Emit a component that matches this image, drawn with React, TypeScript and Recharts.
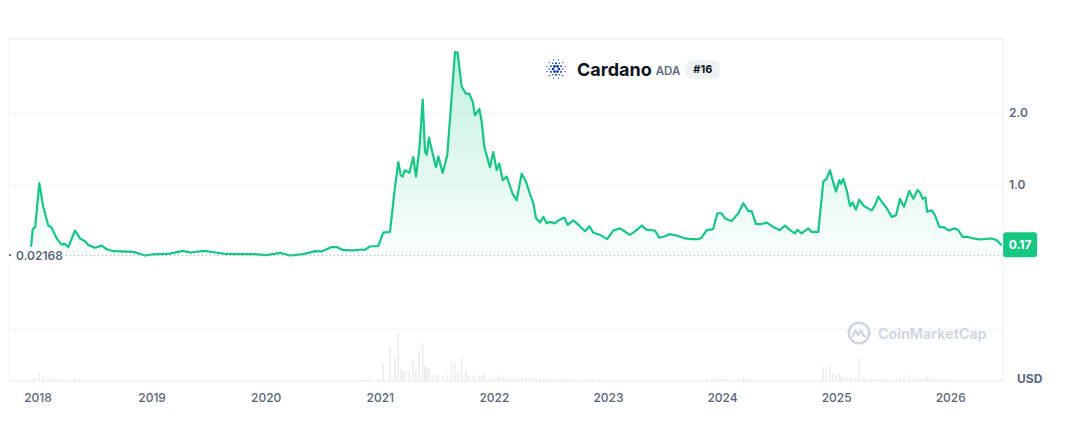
import {
  ComposedChart,
  Area,
  Bar,
  XAxis,
  YAxis,
  CartesianGrid,
  ReferenceLine,
  ReferenceArea,
  ReferenceDot,
} from 'recharts';

// decimal-year timestamps of the sampled points
const dates = [
  2017.939, 2017.954, 2017.976, 2018.011, 2018.046, 2018.09, 2018.12, 2018.164, 2018.208, 2018.228,
  2018.266, 2018.324, 2018.368, 2018.412, 2018.441, 2018.5, 2018.558, 2018.602, 2018.66, 2018.719,
  2018.835, 2018.938, 2019.011, 2019.157, 2019.268, 2019.332, 2019.464, 2019.507, 2019.624, 2019.741,
  2019.887, 2020.004, 2020.121, 2020.209, 2020.325, 2020.428, 2020.486, 2020.574, 2020.618, 2020.676,
  2020.763, 2020.837, 2020.866, 2020.91, 2020.982, 2021.026, 2021.085, 2021.129, 2021.158, 2021.179,
  2021.196, 2021.216, 2021.254, 2021.289, 2021.313, 2021.342, 2021.372, 2021.392, 2021.407, 2021.427,
  2021.459, 2021.488, 2021.509, 2021.547, 2021.587, 2021.626, 2021.655, 2021.678, 2021.713, 2021.751,
  2021.78, 2021.81, 2021.83, 2021.868, 2021.889, 2021.912, 2021.961, 2021.99, 2022.02, 2022.043,
  2022.073, 2022.108, 2022.16, 2022.195, 2022.239, 2022.277, 2022.312, 2022.341, 2022.365, 2022.4,
  2022.429, 2022.458, 2022.487, 2022.531, 2022.56, 2022.613, 2022.642, 2022.692, 2022.75, 2022.794,
  2022.832, 2022.867, 2022.925, 2022.989, 2023.042, 2023.101, 2023.13, 2023.188, 2023.247, 2023.291,
  2023.335, 2023.407, 2023.445, 2023.495, 2023.539, 2023.598, 2023.67, 2023.729, 2023.787, 2023.817,
  2023.861, 2023.918, 2023.954, 2023.992, 2024.021, 2024.08, 2024.138, 2024.182, 2024.226, 2024.255,
  2024.293, 2024.343, 2024.387, 2024.444, 2024.503, 2024.547, 2024.591, 2024.635, 2024.655, 2024.693,
  2024.751, 2024.781, 2024.839, 2024.883, 2024.912, 2024.941, 2024.965, 2024.994, 2025.023, 2025.038,
  2025.058, 2025.088, 2025.117, 2025.14, 2025.169, 2025.198, 2025.239, 2025.307, 2025.336, 2025.365,
  2025.395, 2025.439, 2025.482, 2025.52, 2025.555, 2025.59, 2025.637, 2025.672, 2025.707, 2025.73,
  2025.754, 2025.777, 2025.794, 2025.833, 2025.862, 2025.9, 2025.949, 2025.978, 2026.037, 2026.066,
  2026.104, 2026.139, 2026.197, 2026.256, 2026.36, 2026.404, 2026.446,
];

// ADA price in USD
const prices = [
  0.14, 0.39, 0.42, 1.03, 0.7, 0.44, 0.41, 0.26, 0.17, 0.19,
  0.14, 0.37, 0.26, 0.22, 0.17, 0.13, 0.16, 0.11, 0.083, 0.08,
  0.074, 0.023, 0.04, 0.05, 0.088, 0.065, 0.088, 0.075, 0.05, 0.043,
  0.043, 0.028, 0.06, 0.023, 0.043, 0.083, 0.08, 0.14, 0.14, 0.097,
  0.095, 0.106, 0.1, 0.15, 0.155, 0.34, 0.35, 0.98, 1.32, 1.14,
  1.12, 1.21, 1.17, 1.39, 1.12, 1.49, 2.19, 1.46, 1.42, 1.66,
  1.44, 1.25, 1.4, 1.17, 1.42, 2.23, 2.85, 2.84, 2.37, 2.27,
  2.27, 2.16, 1.97, 2.06, 1.88, 1.53, 1.25, 1.46, 1.21, 1.3,
  1.07, 1.12, 0.88, 0.79, 1.16, 1.05, 0.88, 0.75, 0.54, 0.48,
  0.56, 0.47, 0.49, 0.47, 0.51, 0.55, 0.45, 0.51, 0.43, 0.36,
  0.43, 0.34, 0.31, 0.25, 0.37, 0.4, 0.37, 0.31, 0.375, 0.44,
  0.38, 0.37, 0.27, 0.29, 0.32, 0.3, 0.26, 0.25, 0.25, 0.27,
  0.375, 0.39, 0.61, 0.61, 0.54, 0.5, 0.61, 0.75, 0.64, 0.64,
  0.46, 0.46, 0.48, 0.42, 0.375, 0.44, 0.375, 0.33, 0.38, 0.33,
  0.4, 0.35, 0.35, 1.05, 1.09, 1.21, 1.07, 0.91, 1.07, 1.02,
  1.09, 0.93, 0.71, 0.76, 0.66, 0.8, 0.71, 0.65, 0.72, 0.84,
  0.77, 0.68, 0.56, 0.58, 0.81, 0.7, 0.92, 0.81, 0.93, 0.9,
  0.81, 0.83, 0.63, 0.65, 0.58, 0.42, 0.41, 0.37, 0.4, 0.375,
  0.28, 0.285, 0.26, 0.245, 0.26, 0.236, 0.165,
];

// 24h volume, billions USD
const volumes = [
  0.3, 0.6, 0.8, 2.0, 1.2, 0.8, 0.6, 0.4, 0.3, 0.3,
  0.3, 0.6, 0.4, 0.3, 0.2, 0.2, 0.2, 0.2, 0.15, 0.15,
  0.1, 0.1, 0.1, 0.1, 0.2, 0.15, 0.2, 0.15, 0.1, 0.1,
  0.1, 0.1, 0.2, 0.2, 0.15, 0.2, 0.2, 0.4, 0.3, 0.3,
  0.2, 0.4, 0.4, 0.6, 0.6, 4.5, 8.5, 6.0, 12.0, 3.0,
  2.8, 2.5, 2.6, 5.2, 3.0, 7.0, 9.5, 4.0, 3.5, 3.0,
  1.6, 1.5, 1.4, 1.3, 1.5, 4.7, 4.5, 2.5, 6.0, 2.7,
  1.3, 1.2, 1.4, 1.2, 1.3, 2.0, 1.2, 1.0, 1.0, 1.7,
  0.9, 0.8, 0.8, 0.7, 1.0, 0.8, 0.7, 0.8, 0.9, 0.7,
  0.6, 0.5, 0.5, 0.4, 0.5, 0.5, 0.4, 0.5, 0.4, 0.4,
  0.5, 0.6, 0.3, 0.3, 0.5, 0.4, 0.3, 0.3, 0.3, 0.4,
  0.3, 0.2, 0.5, 0.3, 0.3, 0.2, 0.2, 0.2, 0.2, 0.3,
  0.6, 0.5, 0.9, 0.7, 0.5, 0.4, 0.5, 0.8, 0.5, 0.4,
  0.5, 0.3, 0.3, 0.3, 0.3, 0.3, 0.3, 0.3, 0.3, 0.2,
  0.3, 0.3, 0.4, 3.5, 2.5, 3.8, 2.0, 1.5, 1.6, 1.2,
  1.0, 1.0, 1.3, 0.8, 1.0, 5.8, 1.0, 0.5, 0.5, 0.6,
  0.5, 0.4, 0.4, 0.4, 1.0, 0.7, 1.5, 0.8, 1.0, 0.7,
  0.6, 0.6, 1.2, 0.6, 0.5, 0.6, 0.4, 0.4, 0.4, 0.3,
  0.4, 0.3, 0.2, 0.2, 0.2, 0.2, 0.3,
];

const yearTicks = [2018, 2019, 2020, 2021, 2022, 2023, 2024, 2025, 2026];
const priceTicks = [-1, 1, 2];
const lowestPrice = 0.02168;
const currentPriceLabel = '0.17';

const X_DOMAIN: [number, number] = [2017.737, 2026.458];
const Y_DOMAIN: [number, number] = [-1.72, 3.03];
const VOL_DOMAIN: [number, number] = [0, 85];

const GREEN = '#16c784';
const GRAY = '#58667e';
const FONT = 'Inter, "Noto Sans", sans-serif';

const chartData = dates.map((date, i) => ({
  date,
  price: prices[i],
  volume: volumes[i],
}));

function LowestLabel(props: any) {
  const { x, y } = props.viewBox;
  return (
    <g>
      <rect x={x} y={y - 9} width={55} height={18} fill="#fff" />
      <circle cx={x + 2} cy={y - 0.5} r={1.2} fill={GRAY} />
      <text x={x + 8} y={y} dy="0.4em" fontSize={12} fontWeight={600} fill={GRAY} fontFamily={FONT}>
        {String(lowestPrice)}
      </text>
    </g>
  );
}

function PriceBadge(props: any) {
  const { cx, cy } = props;
  return (
    <g>
      <rect x={cx + 1.5} y={cy - 13} width={34} height={25} rx={3} fill={GREEN} />
      <text
        x={cx + 18.5}
        y={cy}
        dy="0.35em"
        textAnchor="middle"
        fontSize={12}
        fontWeight={700}
        fill="#fff"
        fontFamily={FONT}
      >
        {currentPriceLabel}
      </text>
    </g>
  );
}

function CardanoLogo() {
  const dots: { x: number; y: number; r: number }[] = [];
  for (let i = 0; i < 6; i++) {
    const a = (Math.PI / 3) * i;
    dots.push({ x: 11 + 3 * Math.cos(a), y: 11 + 3 * Math.sin(a), r: 1.3 });
    const b = a + Math.PI / 6;
    dots.push({ x: 11 + 5.8 * Math.cos(b), y: 11 + 5.8 * Math.sin(b), r: 0.95 });
    dots.push({ x: 11 + 6.6 * Math.cos(a), y: 11 + 6.6 * Math.sin(a), r: 0.75 });
  }
  for (let i = 0; i < 12; i++) {
    const a = (Math.PI / 6) * i + Math.PI / 12;
    dots.push({ x: 11 + 9.4 * Math.cos(a), y: 11 + 9.4 * Math.sin(a), r: 0.6 });
  }
  return (
    <svg width={22} height={22} viewBox="0 0 22 22">
      {dots.map((d, i) => (
        <circle key={i} cx={d.x} cy={d.y} r={d.r} fill="#0033ad" />
      ))}
    </svg>
  );
}

function CmcMark() {
  return (
    <svg width={24} height={24} viewBox="0 0 24 24">
      <circle cx={12} cy={12} r={10.3} fill="none" stroke="#cfd5df" strokeWidth={2.4} />
      <path
        d="M5.5 15.5 L8.6 9.3 L11.2 14.3 L13.8 9.3 L16.4 14.6 Q17.4 16 18.6 14.8"
        fill="none"
        stroke="#cfd5df"
        strokeWidth={2.2}
        strokeLinecap="round"
        strokeLinejoin="round"
      />
    </svg>
  );
}

export default function App() {
  return (
    <div style={{ position: 'relative', width: 1050, height: 410, fontFamily: FONT }}>
      <ComposedChart
        width={1050}
        height={410}
        data={chartData}
        margin={{ top: 31, right: 0, bottom: 7, left: 0 }}
      >
        <defs>
          <linearGradient id="adaFill" x1="0" y1="0" x2="0" y2="1">
            <stop offset="0%" stopColor={GREEN} stopOpacity={0.26} />
            <stop offset="100%" stopColor={GREEN} stopOpacity={0.02} />
          </linearGradient>
        </defs>
        <CartesianGrid vertical={false} stroke="#eff2f5" />
        <ReferenceArea
          x1={X_DOMAIN[0]}
          x2={X_DOMAIN[1]}
          y1={Y_DOMAIN[0]}
          y2={Y_DOMAIN[1]}
          fill="none"
          stroke="#eceff3"
          strokeWidth={1}
        />
        <XAxis
          dataKey="date"
          type="number"
          domain={X_DOMAIN}
          ticks={yearTicks}
          allowDataOverflow
          axisLine={false}
          tickLine={false}
          tickMargin={6}
          tick={{ fill: GRAY, fontSize: 12, fontWeight: 500, fontFamily: FONT }}
        />
        <YAxis
          orientation="right"
          type="number"
          domain={Y_DOMAIN}
          ticks={priceTicks}
          allowDataOverflow
          width={55}
          axisLine={false}
          tickLine={false}
          tickSize={6}
          tickMargin={0}
          tickFormatter={(v: number) => (v > 0 ? v.toFixed(1) : '')}
          tick={{ fill: GRAY, fontSize: 12, fontWeight: 600, fontFamily: FONT }}
        />
        <YAxis yAxisId="vol" hide domain={VOL_DOMAIN} />
        <Bar yAxisId="vol" dataKey="volume" fill="#e9ecf1" barSize={2} isAnimationActive={false} />
        <ReferenceLine
          y={lowestPrice}
          stroke="#9aa4b4"
          strokeDasharray="1 3"
          label={LowestLabel}
        />
        <Area
          type="linear"
          dataKey="price"
          stroke={GREEN}
          strokeWidth={2.2}
          strokeLinejoin="round"
          fill="url(#adaFill)"
          fillOpacity={1}
          isAnimationActive={false}
          dot={false}
          activeDot={false}
        />
        <ReferenceDot
          x={dates[dates.length - 1]}
          y={prices[prices.length - 1]}
          r={0}
          shape={PriceBadge}
        />
      </ComposedChart>

      {/* title */}
      <div
        style={{
          position: 'absolute',
          left: 537,
          top: 50,
          height: 22,
          display: 'flex',
          alignItems: 'center',
          whiteSpace: 'nowrap',
        }}
      >
        <CardanoLogo />
        <span style={{ marginLeft: 10, fontSize: 18, fontWeight: 700, color: '#0d1421' }}>Cardano</span>
        <span style={{ marginLeft: 4, fontSize: 11.5, fontWeight: 600, color: '#616e85', marginTop: 3 }}>ADA</span>
        <span
          style={{
            marginLeft: 5,
            fontSize: 11,
            fontWeight: 700,
            color: '#0d1421',
            background: '#eff2f5',
            borderRadius: 8,
            padding: '0 8px',
            height: 19,
            lineHeight: '19px',
          }}
        >
          #16
        </span>
      </div>

      {/* watermark */}
      <div
        style={{
          position: 'absolute',
          left: 839,
          top: 313,
          display: 'flex',
          alignItems: 'center',
          whiteSpace: 'nowrap',
        }}
      >
        <CmcMark />
        <span style={{ marginLeft: 7, fontSize: 14.2, fontWeight: 700, color: '#d2d8e1' }}>CoinMarketCap</span>
      </div>

      <div
        style={{
          position: 'absolute',
          left: 1009,
          top: 365,
          fontSize: 12,
          lineHeight: '12px',
          fontWeight: 700,
          color: GRAY,
        }}
      >
        USD
      </div>
    </div>
  );
}
